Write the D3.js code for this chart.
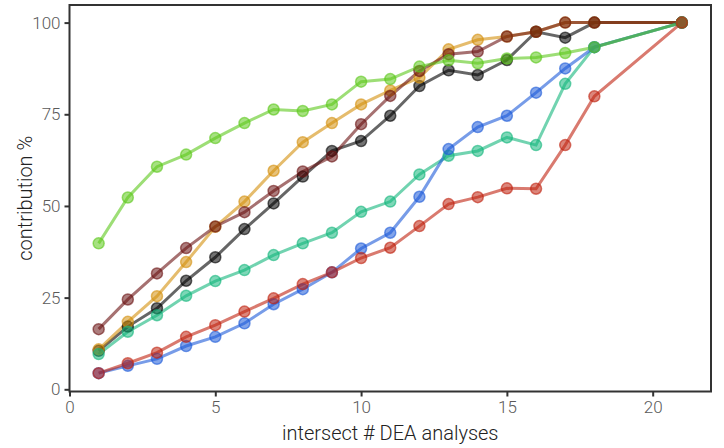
<!DOCTYPE html>
<html>
<head>
<meta charset="utf-8">
<script src="https://cdn.jsdelivr.net/npm/d3@7"></script>
<style>
  body { margin: 0; background: #fff; }
  text { font-family: Roboto, sans-serif; font-weight: 300; }
</style>
</head>
<body>
<div id="chart"></div>
<script>
// x positions (intersect # DEA analyses)
const xs = [1, 2, 3, 4, 5, 6, 7, 8, 9, 10, 11, 12, 13, 14, 15, 16, 17, 18, 21];

// contribution % per series
const blackVals  = [10.5, 17.1, 22.1, 29.6, 36.0, 43.7, 50.7, 58.0, 65.0, 67.7, 74.6, 82.7, 87.0, 85.7, 89.8, 97.5, 95.9, 100, 100];
const orangeVals = [10.9, 18.4, 25.4, 34.7, 44.3, 51.2, 59.6, 67.4, 72.6, 77.7, 81.5, 85.0, 92.7, 95.3, 96.2, 97.5, 100, 100, 100];
const maroonVals = [16.4, 24.5, 31.6, 38.5, 44.4, 48.3, 54.1, 59.4, 63.5, 72.3, 80.0, 86.8, 91.4, 92.1, 96.2, 97.5, 100, 100, 100];
const tealVals   = [9.6, 15.7, 20.2, 25.5, 29.5, 32.5, 36.6, 39.8, 42.7, 48.4, 51.2, 58.6, 63.7, 65.0, 68.7, 66.6, 83.3, 93.3, 100];
const blueVals   = [4.4, 6.4, 8.3, 11.8, 14.3, 18.0, 23.2, 27.3, 31.9, 38.4, 42.7, 52.5, 65.5, 71.5, 74.6, 80.9, 87.5, 93.3, 100];
const greenVals  = [39.8, 52.3, 60.7, 64.0, 68.5, 72.6, 76.3, 75.9, 77.7, 83.9, 84.6, 88.0, 89.7, 88.9, 90.2, 90.5, 91.7, 93.3, 100];
const redVals    = [4.4, 7.1, 10.0, 14.3, 17.5, 21.2, 24.8, 28.7, 31.9, 35.8, 38.6, 44.5, 50.5, 52.4, 54.8, 54.7, 66.6, 79.9, 100];

// drawing order: first is at the bottom
const seriesValues = [blackVals, orangeVals, maroonVals, tealVals, blueVals, greenVals, redVals];
const seriesColors = ["#000000", "#d4900c", "#6a1212", "#12b67c", "#1c5ad8", "#5cc81a", "#c0220f"];

const xTicks = [0, 5, 10, 15, 20];
const yTicks = [0, 25, 50, 75, 100];

const W = 724, H = 448;

const svg = d3.select("#chart")
    .append("svg")
    .attr("width", W)
    .attr("height", H);

const x = d3.scaleLinear().domain([0, 22]).range([69.5, 711]);
const y = d3.scaleLinear().domain([-0.6, 104.8]).range([391.5, 5]);

const line = d3.line()
    .x((d, i) => x(xs[i]))
    .y(d => y(d));

// all lines first, then all points on top
seriesValues.forEach(function(vals, k) {
    svg.append("path")
        .datum(vals)
        .attr("fill", "none")
        .attr("stroke", seriesColors[k])
        .attr("stroke-opacity", 0.6)
        .attr("stroke-width", 3)
        .attr("d", line);
});

seriesValues.forEach(function(vals, k) {
    const col = seriesColors[k];
    svg.selectAll(null)
        .data(vals)
        .join("circle")
        .attr("cx", (d, i) => x(xs[i]))
        .attr("cy", d => y(d))
        .attr("r", 5.5)
        .attr("fill", col)
        .attr("fill-opacity", 0.55)
        .attr("stroke", col)
        .attr("stroke-opacity", 0.6)
        .attr("stroke-width", 1.5);
});

// frame
svg.append("rect")
    .attr("x", x(0))
    .attr("y", y(104.8))
    .attr("width", x(22) - x(0))
    .attr("height", y(-0.6) - y(104.8))
    .attr("fill", "none")
    .attr("stroke", "#333")
    .attr("stroke-width", 2);

// x axis
const xAxis = svg.append("g")
    .attr("transform", `translate(0, ${y(-0.6)})`)
    .call(d3.axisBottom(x).tickValues(xTicks).tickSize(5).tickPadding(4));
xAxis.select(".domain").remove();
xAxis.selectAll(".tick line").attr("stroke", "#333").attr("stroke-width", 2);
xAxis.selectAll(".tick text")
    .attr("fill", "#5a5a5a")
    .style("font-size", "17px")
    .style("font-family", "Roboto, sans-serif")
    .style("font-weight", 300);

// y axis
const yAxis = svg.append("g")
    .attr("transform", `translate(${x(0)}, 0)`)
    .call(d3.axisLeft(y).tickValues(yTicks).tickSize(5).tickPadding(4));
yAxis.select(".domain").remove();
yAxis.selectAll(".tick line").attr("stroke", "#333").attr("stroke-width", 2);
yAxis.selectAll(".tick text")
    .attr("fill", "#5a5a5a")
    .style("font-size", "17px")
    .style("font-family", "Roboto, sans-serif")
    .style("font-weight", 300);

// axis titles
svg.append("text")
    .attr("text-anchor", "middle")
    .attr("x", (x(0) + x(22)) / 2)
    .attr("y", 440)
    .attr("fill", "#222")
    .style("font-size", "20px")
    .text("intersect # DEA analyses");

svg.append("text")
    .attr("text-anchor", "middle")
    .attr("transform", `translate(32, ${(y(-0.6) + y(104.8)) / 2}) rotate(-90)`)
    .attr("fill", "#222")
    .style("font-size", "20px")
    .text("contribution %");
</script>
</body>
</html>
